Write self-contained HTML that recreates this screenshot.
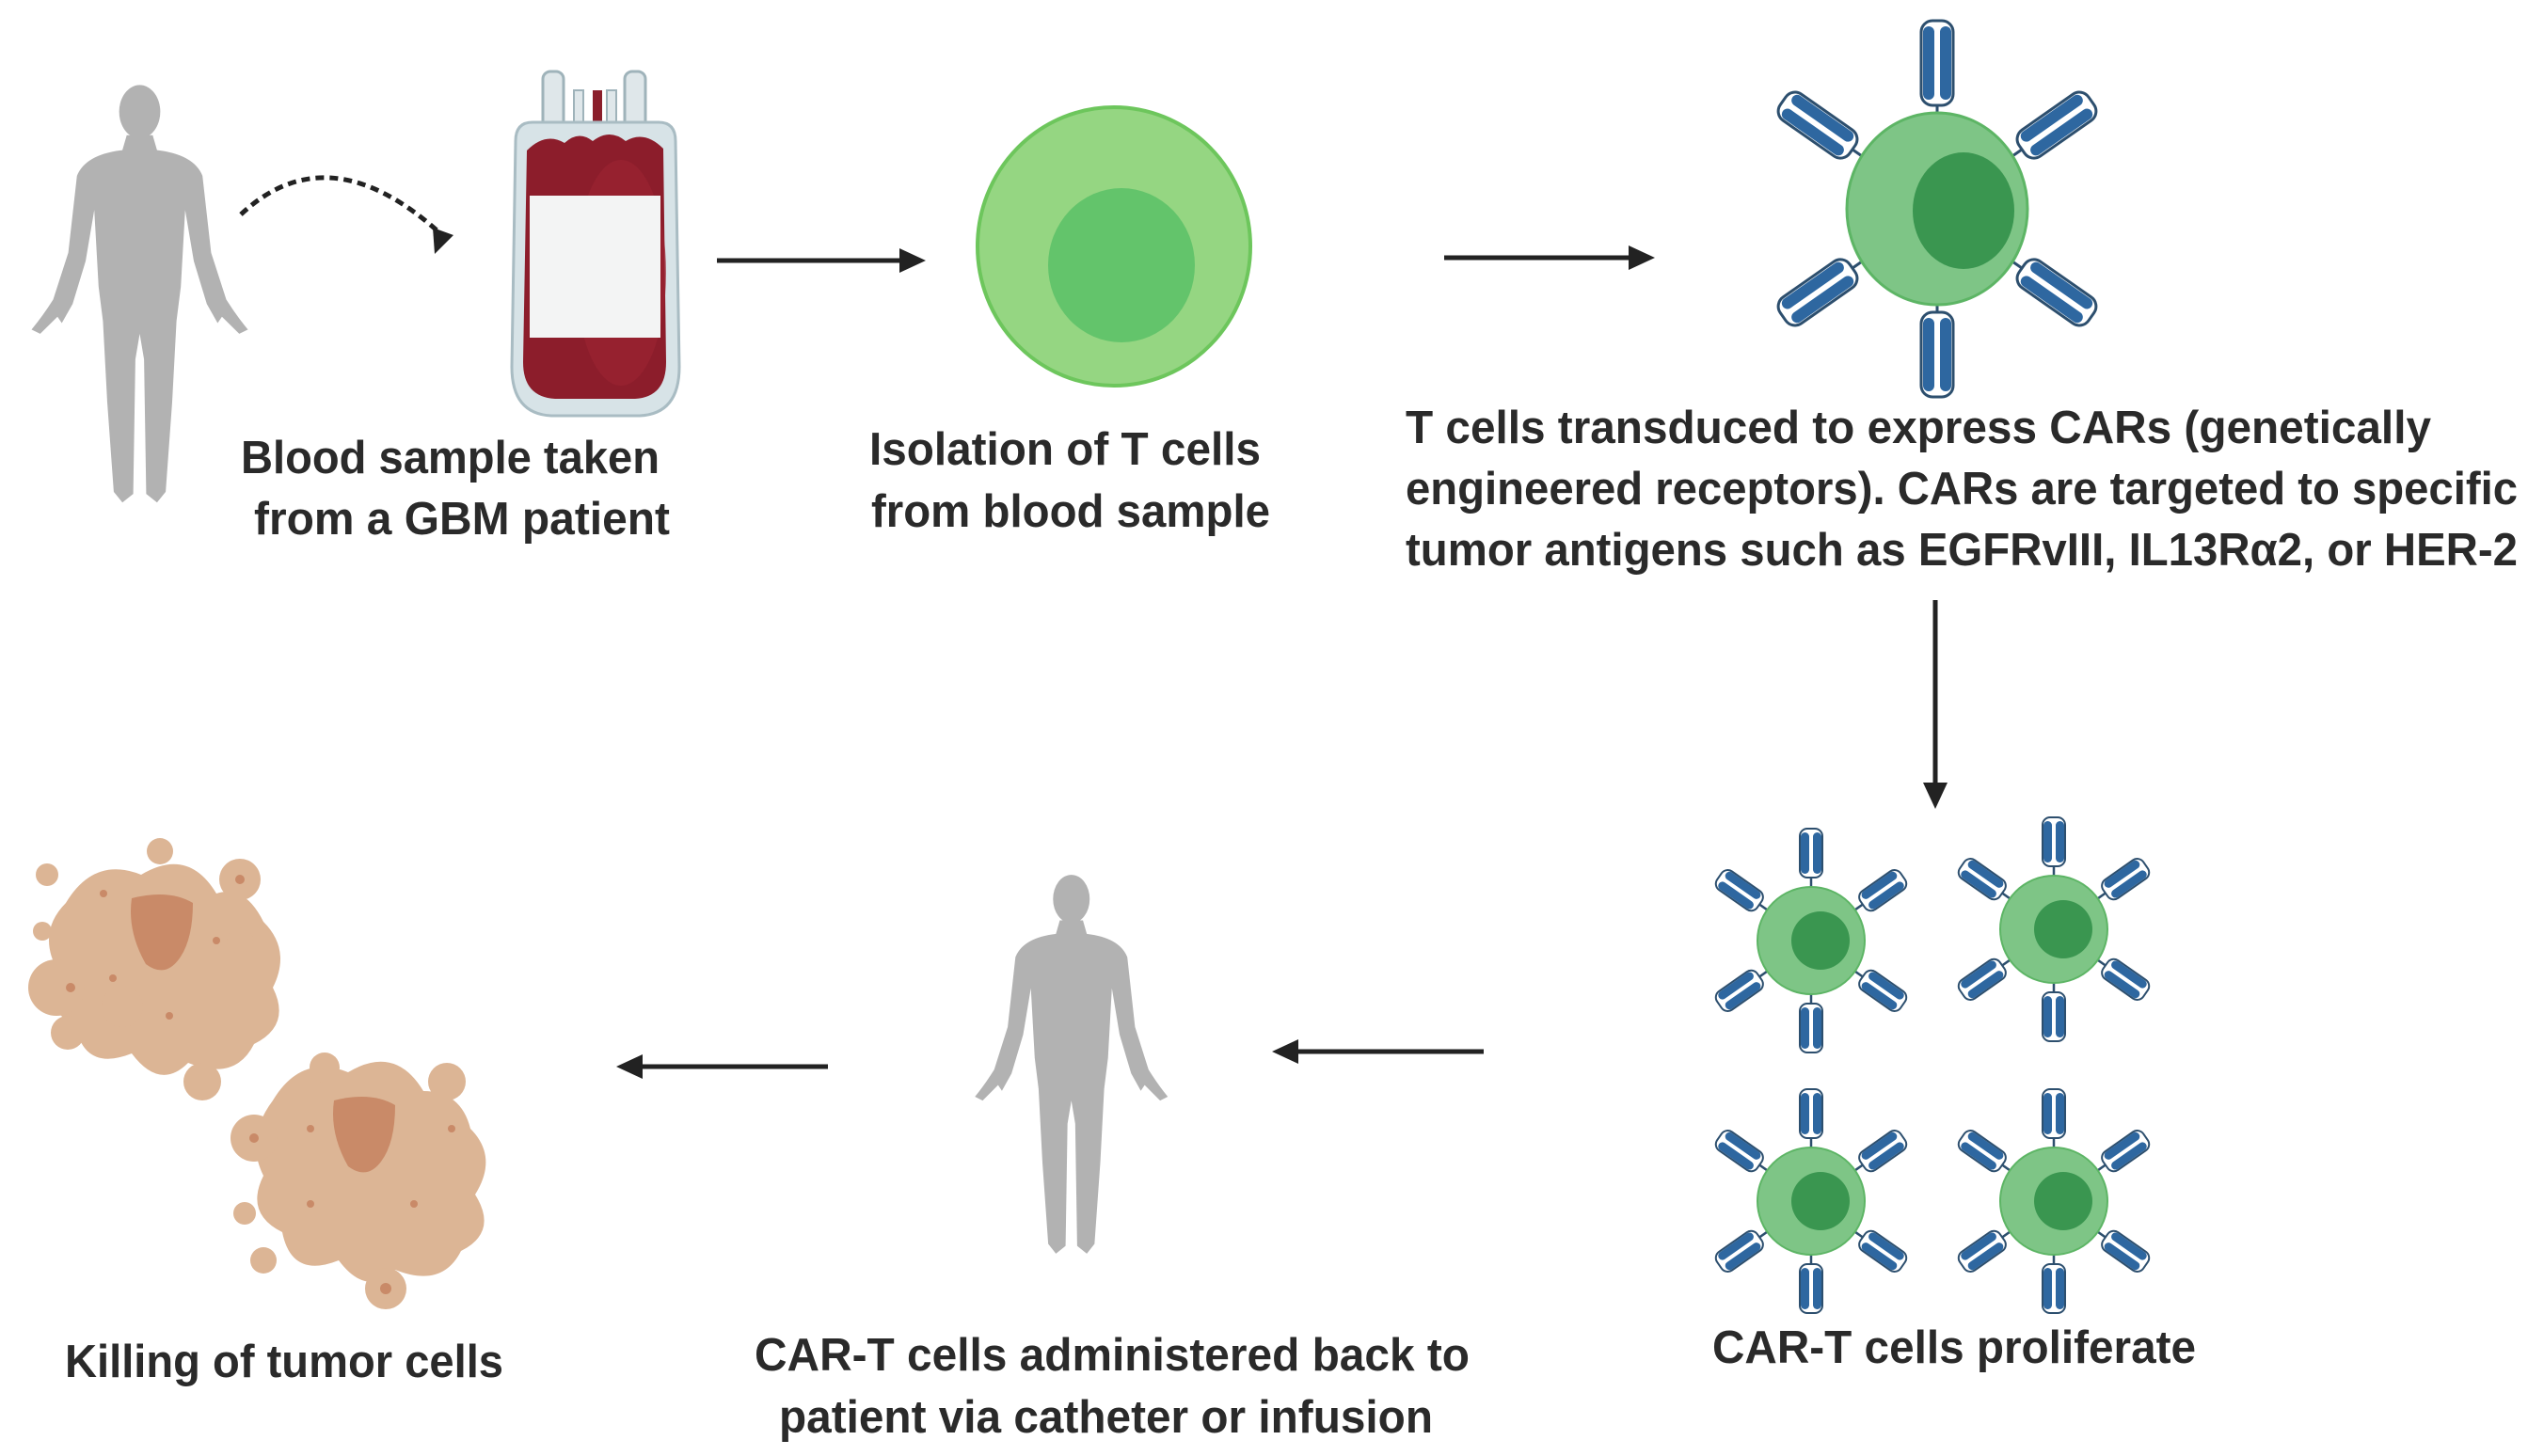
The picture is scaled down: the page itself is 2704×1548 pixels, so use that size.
<!DOCTYPE html>
<html><head><meta charset="utf-8"><style>
html,body{margin:0;padding:0;background:#fff;}
svg{display:block;}
text{font-family:"Liberation Sans",sans-serif;font-weight:bold;fill:#2a2a2a;}
</style></head><body>
<svg width="2704" height="1548" viewBox="0 0 2704 1548" xmlns="http://www.w3.org/2000/svg">
<defs>
<g id="person">
<ellipse cx="55" cy="14" rx="9.5" ry="12.5"/>
<path d="M49,25 L61,25 L63,32 Q80,34 84,44 L88,80 L95,102 Q100,110 105,116 L101,118 L93,110 L91,113 L86,104 L80,84 L76,60 L74,96 L72,112 L70,150 L67,192 L63,197 L58,193 L57,130 L55,118 L53,130 L52,193 L47,197 L43,192 L40,150 L38,112 L36,96 L34,60 L30,84 L24,104 L19,113 L17,110 L9,118 L5,116 Q10,110 15,102 L22,80 L26,44 Q30,34 47,32 Z"/>
</g>
<g id="rec">
<line x1="0" y1="0" x2="0" y2="-14" stroke="#2d4f6e" stroke-width="2.5"/>
<rect x="-12" y="-62" width="24" height="52" rx="8" fill="#fff" stroke="#2d4f6e" stroke-width="2"/>
<rect x="-11" y="-58" width="9" height="44" rx="4.5" fill="#2e67a0"/>
<rect x="2" y="-58" width="9" height="44" rx="4.5" fill="#2e67a0"/>
</g>
<g id="recB">
<line x1="0" y1="0" x2="0" y2="-14" stroke="#2d4f6e" stroke-width="3"/>
<rect x="-17" y="-102" width="34" height="90" rx="12" fill="#fff" stroke="#2d4f6e" stroke-width="3"/>
<rect x="-15" y="-96" width="12" height="78" rx="6" fill="#2e67a0"/>
<rect x="3" y="-96" width="12" height="78" rx="6" fill="#2e67a0"/>
</g>
<g id="smallcell">
<g transform="translate(0,-57)"><use href="#rec"/></g>
<g transform="rotate(180) translate(0,-57)"><use href="#rec"/></g>
<g transform="rotate(55) translate(0,-57)"><use href="#rec"/></g>
<g transform="rotate(125) translate(0,-57)"><use href="#rec"/></g>
<g transform="rotate(235) translate(0,-57)"><use href="#rec"/></g>
<g transform="rotate(305) translate(0,-57)"><use href="#rec"/></g>
<circle r="57" fill="#7ec586" stroke="#5db565" stroke-width="2"/>
<circle cx="10" cy="0" r="31" fill="#3a9650"/>
</g>
</defs>

<g fill="#b2b2b2" transform="translate(22,87) scale(2.3,2.27)"><use href="#person"/></g>

<path d="M256,228 Q350,140 470,250" fill="none" stroke="#222" stroke-width="5" stroke-dasharray="9,6"/>
<polygon points="462,270 460,242 482,250" fill="#222"/>

<g>
<rect x="577" y="76" width="22" height="110" rx="8" fill="#dfe7ea" stroke="#9fb3ba" stroke-width="3"/>
<rect x="664" y="76" width="22" height="110" rx="8" fill="#dfe7ea" stroke="#9fb3ba" stroke-width="3"/>
<rect x="610" y="96" width="10" height="90" fill="#dfe7ea" stroke="#9fb3ba" stroke-width="2"/>
<rect x="630" y="96" width="10" height="90" fill="#8b1e2b"/>
<rect x="645" y="96" width="10" height="90" fill="#dfe7ea" stroke="#9fb3ba" stroke-width="2"/>
<path d="M566,130 L700,130 Q718,130 718,150 L722,390 Q722,440 680,442 L586,442 Q544,440 544,390 L548,150 Q548,130 566,130 Z" fill="#d7e3e7" stroke="#a9bcc3" stroke-width="3"/>
<path d="M560,160 Q580,140 600,152 Q615,138 630,150 Q648,136 665,150 Q685,138 705,158 L708,385 Q708,422 675,424 L590,424 Q556,422 556,385 Z" fill="#8c1d2b"/>
<ellipse cx="660" cy="290" rx="48" ry="120" fill="#9a2432" opacity="0.7"/>
<rect x="563" y="208" width="139" height="151" fill="#f3f4f4"/>
</g>

<line x1="762" y1="277" x2="960" y2="277" stroke="#222" stroke-width="5"/>
<polygon points="984,277 956,264 956,290" fill="#222"/>

<ellipse cx="1184" cy="262" rx="145" ry="148" fill="#95d682" stroke="#6dc65c" stroke-width="4"/>
<ellipse cx="1192" cy="282" rx="78" ry="82" fill="#63c46b"/>

<line x1="1535" y1="274" x2="1735" y2="274" stroke="#222" stroke-width="5"/>
<polygon points="1759,274 1731,261 1731,287" fill="#222"/>

<g transform="translate(2059,222)">
<g transform="translate(0,-98)"><use href="#recB"/></g>
<g transform="rotate(180) translate(0,-98)"><use href="#recB"/></g>
<g transform="rotate(55) translate(0,-98)"><use href="#recB"/></g>
<g transform="rotate(125) translate(0,-98)"><use href="#recB"/></g>
<g transform="rotate(235) translate(0,-98)"><use href="#recB"/></g>
<g transform="rotate(305) translate(0,-98)"><use href="#recB"/></g>
<ellipse rx="96" ry="102" fill="#7ec586" stroke="#5db565" stroke-width="3"/>
<ellipse cx="28" cy="2" rx="54" ry="62" fill="#3a9650"/>
</g>

<line x1="2057" y1="638" x2="2057" y2="835" stroke="#222" stroke-width="5"/>
<polygon points="2057,860 2044,832 2070,832" fill="#222"/>

<g transform="translate(1925,1000)"><use href="#smallcell"/></g>
<g transform="translate(2183,988)"><use href="#smallcell"/></g>
<g transform="translate(1925,1277)"><use href="#smallcell"/></g>
<g transform="translate(2183,1277)"><use href="#smallcell"/></g>

<line x1="1577" y1="1118" x2="1378" y2="1118" stroke="#222" stroke-width="5"/>
<polygon points="1352,1118 1380,1105 1380,1131" fill="#222"/>

<g fill="#b2b2b2" transform="translate(1026,927) scale(2.05,2.06)"><use href="#person"/></g>

<line x1="880" y1="1134" x2="681" y2="1134" stroke="#222" stroke-width="5"/>
<polygon points="655,1134 683,1121 683,1147" fill="#222"/>

<g fill="#dcb595">
<path d="M70,960 Q100,910 150,930 Q200,900 230,950 Q260,940 280,980 Q310,1010 290,1050 Q310,1090 270,1110 Q250,1150 200,1130 Q170,1160 140,1120 Q90,1140 80,1090 Q40,1070 60,1030 Q40,990 70,960 Z"/>
<circle cx="50" cy="930" r="12"/><circle cx="72" cy="1098" r="18"/><circle cx="130" cy="1070" r="22"/>
<circle cx="255" cy="935" r="22"/><circle cx="255" cy="1000" r="14"/><circle cx="60" cy="1050" r="30"/>
<circle cx="215" cy="1150" r="20"/><circle cx="170" cy="905" r="14"/><circle cx="45" cy="990" r="10"/>
<path d="M290,1170 Q320,1120 370,1140 Q420,1110 450,1160 Q490,1160 500,1200 Q530,1230 505,1270 Q530,1310 490,1330 Q470,1370 420,1350 Q390,1380 360,1340 Q310,1360 300,1310 Q260,1290 280,1250 Q260,1210 290,1170 Z"/>
<circle cx="270" cy="1210" r="25"/><circle cx="280" cy="1340" r="14"/><circle cx="345" cy="1135" r="16"/>
<circle cx="475" cy="1150" r="20"/><circle cx="410" cy="1370" r="22"/><circle cx="260" cy="1290" r="12"/>
</g>
<g fill="#c98a68">
<path d="M140,955 Q180,945 205,960 Q205,1000 190,1020 Q175,1040 155,1025 Q135,990 140,955 Z"/>
<path d="M355,1170 Q395,1160 420,1175 Q420,1215 405,1235 Q390,1255 370,1240 Q350,1205 355,1170 Z"/>
<circle cx="110" cy="950" r="4"/><circle cx="230" cy="1000" r="4"/><circle cx="120" cy="1040" r="4"/><circle cx="180" cy="1080" r="4"/>
<circle cx="75" cy="1050" r="5"/><circle cx="255" cy="935" r="5"/><circle cx="330" cy="1200" r="4"/><circle cx="440" cy="1280" r="4"/>
<circle cx="330" cy="1280" r="4"/><circle cx="480" cy="1200" r="4"/><circle cx="410" cy="1370" r="6"/><circle cx="270" cy="1210" r="5"/>
</g>

<g font-size="49">
<text x="256" y="503" textLength="445" lengthAdjust="spacingAndGlyphs">Blood sample taken</text>
<text x="270" y="568" textLength="442" lengthAdjust="spacingAndGlyphs">from a GBM patient</text>
<text x="924" y="494" textLength="416" lengthAdjust="spacingAndGlyphs">Isolation of T cells</text>
<text x="926" y="560" textLength="424" lengthAdjust="spacingAndGlyphs">from blood sample</text>
<text x="1494" y="471" textLength="1090" lengthAdjust="spacingAndGlyphs">T cells  transduced to express CARs (genetically</text>
<text x="1494" y="536" textLength="1182" lengthAdjust="spacingAndGlyphs">engineered receptors). CARs are targeted to specific</text>
<text x="1494" y="601" textLength="1182" lengthAdjust="spacingAndGlyphs">tumor antigens such as  EGFRvIII, IL13Rα2, or HER-2</text>
<text x="1820" y="1449" textLength="514" lengthAdjust="spacingAndGlyphs">CAR-T cells proliferate</text>
<text x="802" y="1457" textLength="760" lengthAdjust="spacingAndGlyphs">CAR-T cells administered back to</text>
<text x="828" y="1523" textLength="695" lengthAdjust="spacingAndGlyphs">patient via catheter or infusion</text>
<text x="69" y="1464" textLength="466" lengthAdjust="spacingAndGlyphs">Killing of tumor cells</text>
</g>
</svg>
</body></html>
